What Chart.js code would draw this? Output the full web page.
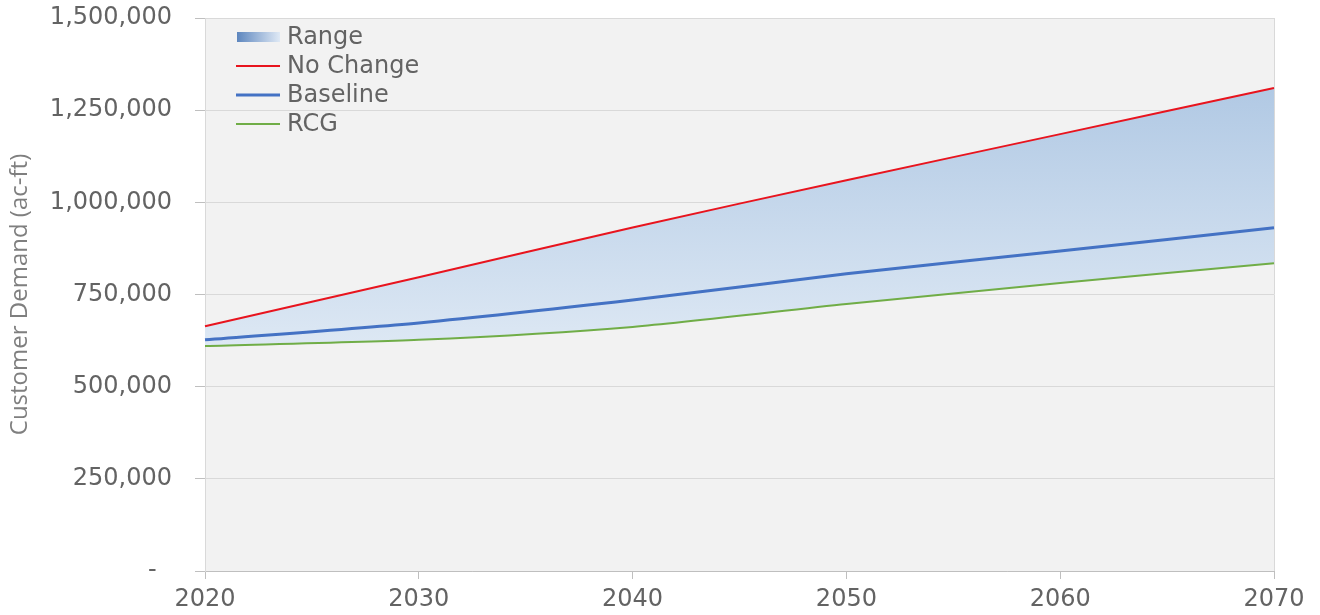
<!DOCTYPE html>
<html>
<head>
<meta charset="utf-8">
<script src="https://cdn.jsdelivr.net/npm/chart.js@4.4.1/dist/chart.umd.min.js"></script>
<style>
  body { margin: 0; background: #fff; }
  #wrap { width: 1320px; height: 615px; position: relative; }
</style>
</head>
<body>
<div id="wrap"><canvas id="demandChart"></canvas></div>
<script>
"use strict";

// data (acre-feet)
const years = ["2020", "2030", "2040", "2050", "2060", "2070"];
const noChange = [664000, 797000, 932000, 1060000, 1185000, 1310000];
const baseline = [627000, 673000, 735000, 806000, 868000, 931000];
const rcg = [610000, 627000, 662000, 724000, 781000, 835000];
const yTicks = [0, 250000, 500000, 750000, 1000000, 1250000, 1500000];

const labelFont = { family: "DejaVu Sans", size: 24 };
const textColor = "#636363";

// gray plot background
const plotBackground = {
  id: "plotBackground",
  beforeDraw(chart) {
    const { ctx, chartArea: a } = chart;
    ctx.save();
    ctx.fillStyle = "#f2f2f2";
    ctx.fillRect(a.left, a.top, a.right - a.left, a.bottom - a.top);
    ctx.restore();
  },
};

// vertical legend inside the plot, top left
const insideLegend = {
  id: "insideLegend",
  afterDraw(chart) {
    const { ctx } = chart;
    const x0 = 236, x1 = 280, textX = 287;
    let y = 37;
    ctx.save();
    ctx.font = `${labelFont.size}px ${labelFont.family}`;
    ctx.textBaseline = "middle";
    chart.data.datasets.forEach((ds) => {
      if (ds.isRange) {
        const g = ctx.createLinearGradient(x0, 0, x1, 0);
        g.addColorStop(0, "#5a84bd");
        g.addColorStop(1, "#dfe9f5");
        ctx.fillStyle = g;
        ctx.fillRect(x0 + 1, y - 5, x1 - x0 - 1, 10);
      } else {
        ctx.strokeStyle = ds.borderColor;
        ctx.lineWidth = ds.borderWidth;
        ctx.beginPath();
        ctx.moveTo(x0, y);
        ctx.lineTo(x1, y);
        ctx.stroke();
      }
      ctx.fillStyle = textColor;
      ctx.fillText(ds.label, textX, y + 1);
      y += 29;
    });
    ctx.restore();
  },
};

const rangeFill = (context) => {
  const chart = context.chart;
  const { ctx, chartArea, scales } = chart;
  if (!chartArea || !scales.y) return "rgba(184,207,232,0.8)";
  const top = scales.y.getPixelForValue(Math.max(...noChange));
  const bottom = scales.y.getPixelForValue(Math.min(...rcg));
  const g = ctx.createLinearGradient(0, top, 0, bottom);
  g.addColorStop(0, "#b1c9e4");
  g.addColorStop(1, "#dde8f4");
  return g;
};

const yLabel = (v) => (v === 0 ? "-  " : v.toLocaleString("en-US"));

new Chart(document.getElementById("demandChart"), {
  type: "line",
  data: {
    labels: years,
    datasets: [
      {
        label: "Range",
        isRange: true,
        data: noChange,
        borderWidth: 0,
        borderColor: "rgba(0,0,0,0)",
        pointRadius: 0,
        tension: 0.25,
        fill: 3,
        backgroundColor: rangeFill,
      },
      {
        label: "No Change",
        data: noChange,
        borderColor: "#e8141e",
        borderWidth: 2,
        pointRadius: 0,
        tension: 0.25,
        fill: false,
      },
      {
        label: "Baseline",
        data: baseline,
        borderColor: "#4472c4",
        borderWidth: 3,
        pointRadius: 0,
        tension: 0.25,
        fill: false,
      },
      {
        label: "RCG",
        data: rcg,
        borderColor: "#70ad47",
        borderWidth: 2,
        pointRadius: 0,
        tension: 0.25,
        fill: false,
      },
    ],
  },
  options: {
    responsive: true,
    maintainAspectRatio: false,
    animation: false,
    layout: { padding: { top: 0, right: 46, left: 0, bottom: 0 } },
    plugins: {
      legend: { display: false },
      tooltip: { enabled: false },
      filler: { drawTime: "beforeDatasetsDraw" },
    },
    scales: {
      x: {
        offset: false,
        grid: {
          color: (c) => (c.index === years.length - 1 ? "#d9d9d9" : "rgba(0,0,0,0)"),
          tickColor: "#bfbfbf",
          tickLength: 8,
        },
        border: { color: "#bfbfbf" },
        ticks: { color: textColor, font: labelFont, padding: 6, maxRotation: 0 },
        afterFit: (scale) => { scale.height = 44; },
      },
      y: {
        min: 0,
        max: 1500000,
        afterBuildTicks: (scale) => { scale.ticks = yTicks.map((v) => ({ value: v })); },
        grid: { color: "#d9d9d9", tickColor: "#bfbfbf", tickLength: 10 },
        border: { color: "#d9d9d9" },
        ticks: { color: textColor, font: labelFont, padding: 23, callback: yLabel },
        title: {
          display: true,
          text: "Customer Demand (ac-ft)",
          color: "#7f7f7f",
          font: { family: "Open Sans", size: 24 },
          padding: { top: 6, bottom: 0 },
        },
        afterFit: (scale) => {
          scale.width = 205;
          scale.paddingTop = 18;
          scale.paddingBottom = 0;
        },
      },
    },
  },
  plugins: [plotBackground, insideLegend],
});
</script>
</body>
</html>
